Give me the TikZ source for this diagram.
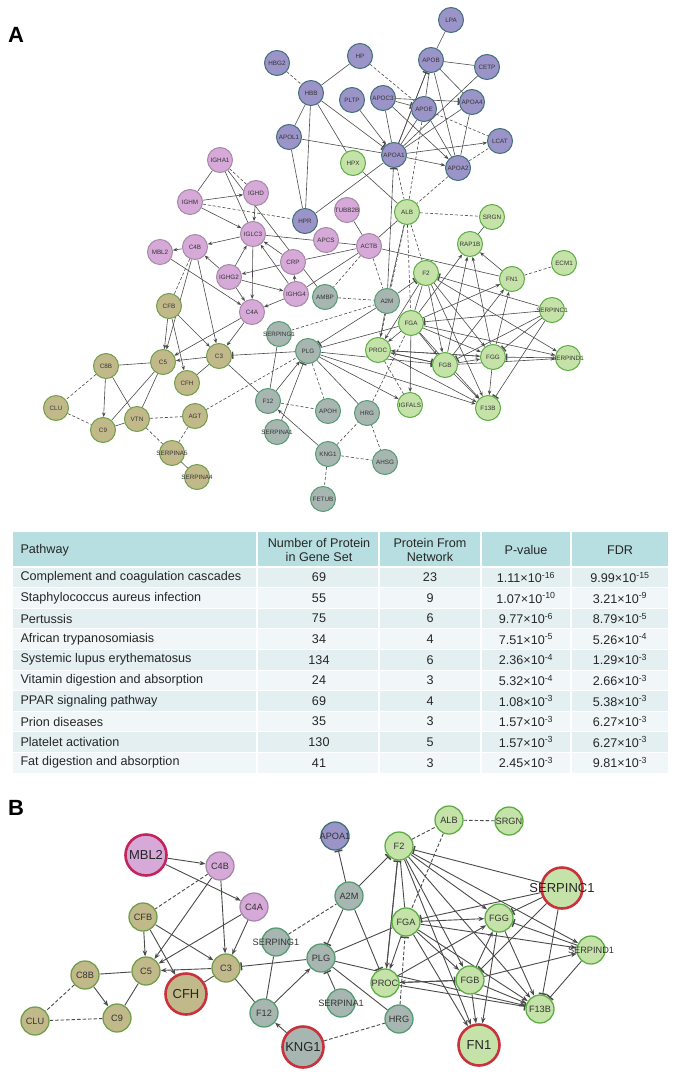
\documentclass[tikz,border=0pt]{standalone}
\usepackage{fontspec}
\setmainfont{Liberation Sans}
\usetikzlibrary{arrows.meta}
\pgfdeclarelayer{bg}\pgfsetlayers{bg,main}
\definecolor{puF}{HTML}{9B94C8}\definecolor{puD}{HTML}{41707A}
\definecolor{pkF}{HTML}{D6A9D8}\definecolor{pkD}{HTML}{A58AA8}
\definecolor{grF}{HTML}{C5E3A8}\definecolor{grD}{HTML}{5DAD45}
\definecolor{olF}{HTML}{C2B98B}\definecolor{olD}{HTML}{6F9F49}
\definecolor{gyF}{HTML}{A8B6B1}\definecolor{gyD}{HTML}{549C72}
\definecolor{edgeC}{HTML}{4A4A4A}
\definecolor{redB}{HTML}{C8323C}\definecolor{magB}{HTML}{C4245A}
\definecolor{hdr}{HTML}{B7DFE1}\definecolor{rowA}{HTML}{E4EFF1}\definecolor{rowB}{HTML}{F1F7F8}
\newcommand{\mysci}[2]{#1×10\textsuperscript{#2}}
\begin{document}
\begin{tikzpicture}[x=1pt,y=-1pt,
  nd/.style={circle,draw,line width=1pt,minimum size=25pt,inner sep=0pt},
  la/.style={text=black!80,font=\fontsize{6.3}{7}\selectfont,inner sep=0pt},
  lb/.style={text=black!80,font=\fontsize{9.2}{10}\selectfont,inner sep=0pt},
  lc/.style={text=black!85,font=\fontsize{13}{14}\selectfont,inner sep=0pt},
  pu/.style={nd,fill=puF,draw=puD}, pk/.style={nd,fill=pkF,draw=pkD},
  gr/.style={nd,fill=grF,draw=grD}, ol/.style={nd,fill=olF,draw=olD},
  gy/.style={nd,fill=gyF,draw=gyD},
  ndb/.style={minimum size=28pt,line width=1.3pt},
  big/.style={minimum size=41pt,line width=2.6pt,draw=redB},
  ln/.style={draw=edgeC,line width=0.6pt},
  dl/.style={ln,dash pattern=on 3pt off 2pt},
  ar/.style={ln,-{Stealth[length=4.5pt,width=3.5pt]}},
  tb/.style={ln,-{Bar[width=7pt,line width=1.4pt]}},
  lnB/.style={draw=edgeC,line width=0.9pt},
  dlB/.style={lnB,dash pattern=on 3.5pt off 2pt},
  arB/.style={lnB,-{Stealth[length=6pt,width=4.5pt]}},
  tbB/.style={lnB,-{Bar[width=8pt,line width=1.5pt]}},
  plabel/.style={font=\bfseries\fontsize{22}{22}\selectfont},
  tt/.style={font=\fontsize{12.6}{14}\selectfont,text=black!85}
]
\useasboundingbox (0,0) rectangle (677,1076);
\node[plabel] (labA) at (16,35) {A};
\node[plabel] (labB) at (16,808) {B};

% ---------------- Panel A nodes
\foreach \n/\x/\y in {LPA/451/20, HBG2/277/63, HP/360/56, APOB/431/60, CETP/487/67, HBB/311/93, PLTP/352/100, APOC3/383/98, APOE/424/109, APOA4/472/102, APOL1/289/137, APOA1/394/155, LCAT/500/141, APOA2/458/168, HPR/305/221}
  \node[pu,label={[la]center:\n}] (\n) at (\x,\y) {};
\foreach \n/\x/\y in {HPX/353/163, ALB/407/212, SRGN/492/217, RAP1B/470/244, ECM1/564/263, FN1/512/279, F2/426/273, SERPINC1/552/310, FGA/411/323, PROC/378/350, FGB/445/365, FGG/493/357, SERPIND1/568/358, F13B/488/408, IGFALS/410/405}
  \node[gr,label={[la]center:\n}] (\n) at (\x,\y) {};
\foreach \n/\x/\y in {IGHA1/220/160, IGHD/256/193, IGHM/190/202, TUBB2B/347/210, IGLC3/253/234, MBL2/160/252, C4B/195/247, APCS/326/240, ACTB/369/246, CRP/293/262, IGHG2/229/277, IGHG4/296/294, C4A/252/312}
  \node[pk,label={[la]center:\n}] (\n) at (\x,\y) {};
\foreach \n/\x/\y in {AMBP/325/297, A2M/387/301, SERPING1/279/334, PLG/308/351, F12/268/401, SERPINA1/277/432, APOH/328/411, HRG/367/413, KNG1/328/454, AHSG/385/462, FETUB/323/499}
  \node[gy,label={[la]center:\n}] (\n) at (\x,\y) {};
\foreach \n/\x/\y in {CFB/169/306, C5/163/362, C3/219/356, CFH/187/383, C8B/106/366, CLU/56/408, C9/103/430, VTN/137/419, AGT/195/416, SERPINA5/172/453, SERPINA4/197/477}
  \node[ol,label={[la]center:\n}] (\n) at (\x,\y) {};

\begin{pgfonlayer}{bg}
\foreach \a/\b in {LPA/APOB, HP/HBB, APOB/CETP, APOB/APOE, APOB/APOA4, APOB/APOA1, APOB/APOA2, APOC3/APOA1, CETP/APOA1, APOE/APOA1, APOE/APOA2, APOA4/APOA1, APOA4/APOA2, HBB/HPX, HBB/APOL1, HBB/HPR, APOL1/HPR, APOL1/APOA1, APOA1/HPR, HPX/ALB,
  IGHA1/IGHM, IGHA1/IGLC3, IGHA1/AMBP, IGLC3/ACTB, ACTB/CRP, ACTB/IGHG4, ACTB/TUBB2B, ACTB/ALB, ACTB/FN1, A2M/ALB, PLG/FGA, PLG/HRG, F12/SERPING1, F12/C3,
  C3/CFH, C5/C8B, C5/C9, C5/VTN, C8B/VTN, C9/VTN, SERPINA5/SERPINA4, SRGN/RAP1B, F2/FGA}
  \draw[ln] (\a) -- (\b);
\foreach \a/\b in {HBG2/HBB, HP/APOE, APOE/LCAT, APOA2/LCAT, APOA1/ALB, APOA2/ALB, APOE/ALB, IGHA1/IGHD, IGHM/HPR, C4B/CFB, ACTB/A2M, ACTB/AMBP, AMBP/A2M,
  SERPING1/A2M, PLG/APOH, KNG1/HRG, KNG1/AHSG, KNG1/FETUB, HRG/AHSG, HRG/FGA, F12/APOH, AGT/PLG, PROC/IGFALS,
  C8B/CLU, CLU/C9, VTN/AGT, VTN/SERPINA5, AGT/SERPINA5, ALB/SRGN, ALB/F2, ALB/FGA, ALB/PROC, FN1/ECM1}
  \draw[dl] (\a) -- (\b);
\foreach \a/\b in {PLTP/APOA1, APOC3/APOA2, APOA1/LCAT, APOA1/APOA2,
  IGHM/IGHD, IGHM/IGLC3, IGHD/IGLC3, IGLC3/C4B, IGLC3/C4A, IGHG2/IGLC3, IGHG2/C4B, IGHG2/IGHG4, IGHG2/C4A, CRP/IGHG2, CRP/IGLC3, IGHG4/IGLC3, IGHG4/CRP, IGHG4/C4A, C4B/MBL2, MBL2/C4A,
  A2M/PROC, PLG/IGFALS, PLG/F13B, F12/PLG, KNG1/F12, FGA/IGFALS,
  CFB/C5, CFB/C3, CFB/CFH, C4B/C5, C4B/C3, C4A/C5, C4A/C3, C3/C5, C8B/C9,
  FN1/RAP1B, FGA/RAP1B, FGB/RAP1B, FGG/RAP1B, FGA/FN1, FGB/FN1, FGG/FN1, F2/PROC, FGA/FGG, FGA/SERPIND1, FGB/FGG, PROC/FGG, F2/SERPIND1, F2/FGB, F2/F13B, F2/FGG, FGA/PROC, FGG/PROC, FGB/PROC, FGA/FGB, FGA/F13B, FGB/F13B, FGG/F13B, PROC/F13B, FGB/SERPIND1}
  \draw[ar] (\a) -- (\b);
\foreach \a/\b in {APOA1/APOB, APOC3/APOE, APOC3/APOA4, HBB/APOA1, A2M/APOA1, A2M/PLG, A2M/F2, PLG/C3, PLG/FGB, SERPINA1/PLG,
  SERPINC1/F2, SERPINC1/FGA, SERPINC1/FGG, SERPINC1/FGB, SERPIND1/FGG, PROC/FGB, SERPINC1/F13B}
  \draw[tb] (\a) -- (\b);
\end{pgfonlayer}

% ---------------- Table
\fill[hdr] (13,532) rectangle (668,567);
\node[tt,anchor=west] (hP) at (17,550) {Pathway};
\node[tt,align=center] (hN) at (319,550) {Number of Protein\\in Gene Set};
\node[tt,align=center] (hF) at (430,550) {Protein From\\Network};
\node[tt] (hV) at (526,550) {P-value};
\node[tt] (hD) at (620,550) {FDR};
\foreach \i/\c/\p/\n/\f/\pv/\fd in {
 1/rowA/Complement and coagulation cascades/69/23/{\mysci{1.11}{-16}}/{\mysci{9.99}{-15}},
 2/rowB/Staphylococcus aureus infection/55/9/{\mysci{1.07}{-10}}/{\mysci{3.21}{-9}},
 3/rowA/Pertussis/75/6/{\mysci{9.77}{-6}}/{\mysci{8.79}{-5}},
 4/rowB/African trypanosomiasis/34/4/{\mysci{7.51}{-5}}/{\mysci{5.26}{-4}},
 5/rowA/Systemic lupus erythematosus/134/6/{\mysci{2.36}{-4}}/{\mysci{1.29}{-3}},
 6/rowB/Vitamin digestion and absorption/24/3/{\mysci{5.32}{-4}}/{\mysci{2.66}{-3}},
 7/rowA/PPAR signaling pathway/69/4/{\mysci{1.08}{-3}}/{\mysci{5.38}{-3}},
 8/rowB/Prion diseases/35/3/{\mysci{1.57}{-3}}/{\mysci{6.27}{-3}},
 9/rowA/Platelet activation/130/5/{\mysci{1.57}{-3}}/{\mysci{6.27}{-3}},
 10/rowB/Fat digestion and absorption/41/3/{\mysci{2.45}{-3}}/{\mysci{9.81}{-3}}}
{
  \pgfmathsetmacro{\yt}{567+(\i-1)*20.6}
  \pgfmathsetmacro{\yc}{567+(\i-0.5)*20.6}
  \fill[\c] (13,\yt) rectangle (668,\yt+20.6);
  \node[tt,anchor=west] (p\i) at (17,\yc) {\p};
  \node[tt] (n\i) at (319,\yc) {\n};
  \node[tt] (f\i) at (430,\yc) {\f};
  \node[tt] (v\i) at (526,\yc) {\pv};
  \node[tt] (d\i) at (620,\yc) {\fd};
}
\foreach \i in {1,...,9} \draw[white,line width=1pt] (13,567+\i*20.6) -- (668,567+\i*20.6);
\draw[white,line width=1.2pt] (13,567) -- (668,567);
\foreach \x in {257,379,481,571} \draw[white,line width=1.4pt] (\x,532) -- (\x,773);

% ---------------- Panel B nodes
\foreach \n/\x/\y in {C4B/220/866, C4A/254/907}
  \node[pk,ndb,label={[lb]center:\n}] (B\n) at (\x,\y) {};
\foreach \n/\x/\y in {CFB/143/917, C5/146/971, C3/226/968, C8B/85/975, CLU/35/1021, C9/117/1018}
  \node[ol,ndb,label={[lb]center:\n}] (B\n) at (\x,\y) {};
\foreach \n/\x/\y in {SERPING1/276/942, F12/264/1013, PLG/321/958, A2M/349/896, SERPINA1/341/1003, HRG/399/1019}
  \node[gy,ndb,label={[lb]center:\n}] (B\n) at (\x,\y) {};
\node[pu,ndb,label={[lb]center:APOA1}] (BAPOA1) at (335,836) {};
\foreach \n/\x/\y in {F2/399/846, ALB/449/820, SRGN/509/821, FGA/406/922, PROC/385/983, FGG/499/918, SERPIND1/591/950, FGB/470/980, F13B/540/1009}
  \node[gr,ndb,label={[lb]center:\n}] (B\n) at (\x,\y) {};
\node[pk,big,draw=magB,label={[lc]center:MBL2}] (BMBL2) at (146,855) {};
\node[ol,big,label={[lc]center:CFH}] (BCFH) at (186,994) {};
\node[gy,big,label={[lc]center:KNG1}] (BKNG1) at (303,1047) {};
\node[gr,big,label={[lc]center:SERPINC1}] (BSERPINC1) at (562,888) {};
\node[gr,big,label={[lc]center:FN1}] (BFN1) at (479,1045) {};

\begin{pgfonlayer}{bg}
\foreach \a/\b in {C3/CFH, C3/F12, C5/C8B, C5/C9, F12/SERPING1, PLG/HRG, PLG/FGA, F2/FGA}
  \draw[lnB] (B\a) -- (B\b);
\foreach \a/\b in {C4B/CFB, C8B/CLU, CLU/C9, SERPING1/A2M, KNG1/HRG, F2/ALB, ALB/SRGN, ALB/FGA}
  \draw[dlB] (B\a) -- (B\b);
\foreach \a/\b in {MBL2/C4B, MBL2/C4A, C4B/C3, C4B/C5, C4A/C3, C4A/C5, CFB/C5, CFB/C3, CFB/CFH, C3/C5, C8B/C9, F12/PLG, KNG1/F12, PLG/F13B,
  F2/PROC, FGA/PROC, F2/FGG, F2/SERPIND1, F2/F13B, F2/FN1, F2/FGB, FGA/FGG, FGA/SERPIND1, FGA/FGB, FGA/F13B, FGA/FN1, FGG/FN1, FGG/F13B, FGB/FN1, FGB/FGG, FGB/SERPIND1, FGB/F13B, FGB/PROC, PROC/FGG}
  \draw[arB] (B\a) -- (B\b);
\foreach \a/\b in {PLG/C3, A2M/APOA1, A2M/F2, A2M/PLG, A2M/PROC, SERPINA1/PLG, PROC/F2, SERPINC1/F2, SERPINC1/FGA, SERPINC1/FGG, SERPINC1/FGB, SERPINC1/F13B, PROC/FGB, PROC/F13B, SERPIND1/F13B, SERPIND1/FGG}
  \draw[tbB] (B\a) -- (B\b);
\draw[tbB,dash pattern=on 3.5pt off 2pt] (BHRG) -- (BFGA);
\end{pgfonlayer}
\end{tikzpicture}
\end{document}
